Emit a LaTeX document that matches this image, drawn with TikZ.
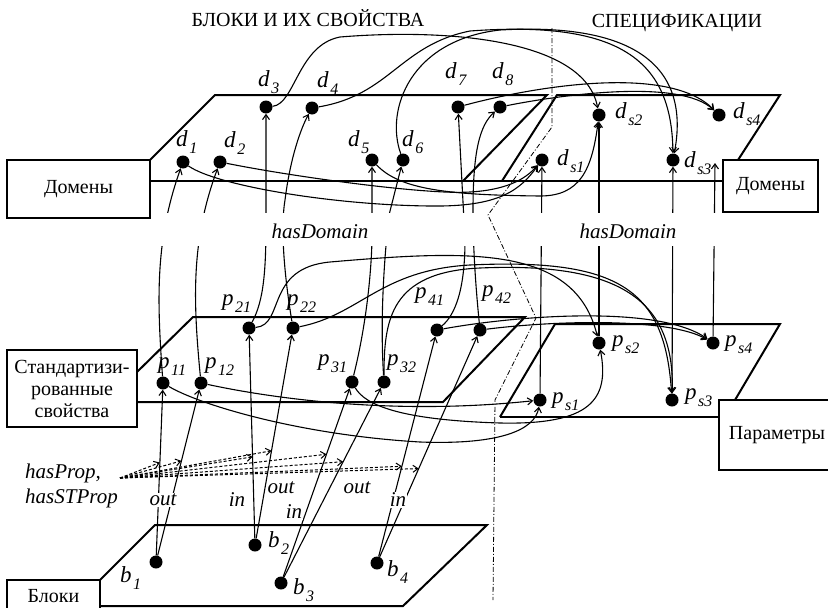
\documentclass[tikz,border=0pt]{standalone}
\usepackage{fontspec}
\setmainfont{Liberation Serif}
\usetikzlibrary{arrows.meta}
% italic letter with a lowered italic index
\newcommand{\elab}[2]{{\fontsize{23}{23}\selectfont\textit{#1}}\kern1.5pt\raisebox{-7pt}{\fontsize{16}{16}\selectfont\textit{#2}}}

\begin{document}
\begin{tikzpicture}[x=1pt,y=-1pt,
    font=\fontsize{20}{22}\selectfont,
    dot/.style={circle,fill=black,inner sep=0pt,minimum size=13pt},
    plane/.style={line width=2pt},
    box/.style={draw,line width=1.6pt,inner sep=0pt,align=center},
    link/.style={line width=1.1pt,-{Straight Barb[length=5pt,width=7pt]}},
    prop/.style={line width=1pt,densely dashed,-{Straight Barb[length=5pt,width=7pt]}},
    lab/.style={anchor=base west,inner sep=0pt},
    tag/.style={font=\fontsize{21}{22}\selectfont\itshape,fill=white,inner sep=1pt}]
  \clip (0,0) rectangle (828,608);

  % boxes on the left and right
  \node[box,minimum width=143pt,minimum height=58pt] (domL) at (78.5,189) {Домены};
  \node[box,minimum width=95pt,minimum height=52pt] (domR) at (770.5,186) {Домены};
  \node[box,minimum width=130pt,minimum height=77pt] (stprop) at (72,388.5)
    {Стандартизи-\\рованные\\свойства};
  \node[box,minimum width=116pt,minimum height=70pt] (param) at (777,435) {Параметры};
  \node[box,minimum width=93pt,minimum height=32pt] (blocks) at (53.5,596) {Блоки};

  % the planes
  \draw[plane] (150,160) -- (215,95) -- (547,95) -- (463,181);
  \draw[plane] (150,181) -- (723,181);
  \draw[plane] (502,181) -- (557,95) -- (780,95) -- (738,160);
  \draw[plane] (137,372) -- (193,317) -- (525,317) -- (443,402) -- (137,402);
  \draw[plane] (500,417) -- (555,324) -- (780,324) -- (735,400);
  \draw[plane] (500,417) -- (719,417);
  \draw[plane] (100,580) -- (155,525) -- (487,525) -- (403,606) -- (100,606);

  \node at (308,18) {БЛОКИ И ИХ СВОЙСТВА};
  \node at (677,23) {СПЕЦИФИКАЦИИ};

  % domains
  \node[dot] (d1) at (183,162) {};
  \node[dot] (d2) at (220,162) {};
  \node[dot] (d3) at (266,107) {};
  \node[dot] (d4) at (312,108) {};
  \node[dot] (d5) at (372,160) {};
  \node[dot] (d6) at (403,160) {};
  \node[dot] (d7) at (458,107) {};
  \node[dot] (d8) at (500,107) {};
  \node[dot] (ds1) at (542,160) {};
  \node[dot] (ds2) at (599,115) {};
  \node[dot] (ds3) at (673,160) {};
  \node[dot] (ds4) at (719,115) {};
  % properties
  \node[dot] (p11) at (163,383) {};
  \node[dot] (p12) at (201,383) {};
  \node[dot] (p21) at (249,328) {};
  \node[dot] (p22) at (293,328) {};
  \node[dot] (p31) at (352,382) {};
  \node[dot] (p32) at (384,382) {};
  \node[dot] (p41) at (437,330) {};
  \node[dot] (p42) at (480,330) {};
  \node[dot] (ps1) at (540,400) {};
  \node[dot] (ps2) at (599,343) {};
  \node[dot] (ps3) at (672,400) {};
  \node[dot] (ps4) at (713,343) {};
  % blocks
  \node[dot] (b1) at (156,562) {};
  \node[dot] (b2) at (255,545) {};
  \node[dot] (b3) at (281,583) {};
  \node[dot] (b4) at (377,563) {};

  \node[lab] at (176,146) {\elab{d}{1}};
  \node[lab] at (224,147) {\elab{d}{2}};
  \node[lab] at (258,86) {\elab{d}{3}};
  \node[lab] at (317,87) {\elab{d}{4}};
  \node[lab] at (348,146) {\elab{d}{5}};
  \node[lab] at (402,146) {\elab{d}{6}};
  \node[lab] at (445,78) {\elab{d}{7}};
  \node[lab] at (492,78) {\elab{d}{8}};
  \node[lab] at (557,165) {\elab{d}{s1}};
  \node[lab] at (615,118) {\elab{d}{s2}};
  \node[lab] at (684,167) {\elab{d}{s3}};
  \node[lab] at (733,118) {\elab{d}{s4}};
  \node[lab] at (158,368) {\elab{p}{11}};
  \node[lab] at (205,368) {\elab{p}{12}};
  \node[lab] at (222,305) {\elab{p}{21}};
  \node[lab] at (287,305) {\elab{p}{22}};
  \node[lab] at (318,365) {\elab{p}{31}};
  \node[lab] at (387,365) {\elab{p}{32}};
  \node[lab] at (415,298) {\elab{p}{41}};
  \node[lab] at (482,296) {\elab{p}{42}};
  \node[lab] at (552,403) {\elab{p}{s1}};
  \node[lab] at (612,346) {\elab{p}{s2}};
  \node[lab] at (685,399) {\elab{p}{s3}};
  \node[lab] at (725,346) {\elab{p}{s4}};
  \node[lab] at (120,582) {\elab{b}{1}};
  \node[lab] at (268,547) {\elab{b}{2}};
  \node[lab] at (293,594) {\elab{b}{3}};
  \node[lab] at (387,576) {\elab{b}{4}};

  % hasDomain
  \draw[link] (p11) .. controls (157,300) and (155,240) .. (d1);
  \draw[link] (p12) .. controls (193,300) and (191,240) .. (d2);
  \draw[link] (p21) .. controls (264,300) and (266,270) .. (266,220) -- (d3);
  \draw[link] (p22) .. controls (285,280) and (280,230) .. (285,200) .. controls (290,160) and (300,130) .. (d4);
  \draw[link] (p31) .. controls (365,330) and (371,280) .. (372,240) -- (d5);
  \draw[link] (p32) .. controls (380,320) and (384,260) .. (389,215) -- (d6);
  \draw[link] (p41) .. controls (455,315) and (465,290) .. (465,240) -- (d7);
  \draw[link] (p42) .. controls (476,290) and (473,250) .. (473,210) .. controls (473,150) and (480,125) .. (d8);
  \draw[link] (ps1) -- (ds1);
  \draw[link] (ps2) -- (ds2);
  \draw[link] (ps3) -- (ds3);
  \coordinate (hd4) at (715,163);
  \draw[link] (ps4) -- (hd4);

  % domains to specification domains
  \draw[link] (d1) .. controls (215,185) and (330,205) .. (430,206) .. controls (500,207) and (520,190) .. (ds1);
  \draw[link] (d2) .. controls (300,178) and (430,195) .. (470,192) .. controls (505,190) and (525,180) .. (ds1);
  \draw[link] (d5) .. controls (400,190) and (450,195) .. (540,196) .. controls (580,196) and (592,170) .. (ds2);
  \draw[link] (d3) .. controls (295,104) and (298,45) .. (340,37) .. controls (450,28) and (585,40) .. (ds2);
  \draw[link] (d4) .. controls (390,95) and (400,45) .. (470,31) .. controls (620,20) and (672,60) .. (ds3);
  \draw[link] (d6) .. controls (385,110) and (410,40) .. (500,30) .. controls (640,22) and (690,70) .. (ds3);
  \draw[link] (d7) .. controls (540,85) and (670,65) .. (ds4);
  \draw[link] (d8) .. controls (560,95) and (680,78) .. (ds4);

  % properties to parameters
  \draw[link] (p11) .. controls (200,405) and (300,435) .. (420,442) .. controls (500,445) and (535,430) .. (ps1);
  \draw[link] (p12) .. controls (280,400) and (400,415) .. (ps1);
  \draw[link] (p31) .. controls (365,405) and (400,420) .. (500,423) .. controls (590,425) and (610,400) .. (ps2);
  \draw[link] (p21) .. controls (285,325) and (265,268) .. (330,262) .. controls (470,250) and (575,245) .. (ps2);
  \draw[link] (p22) .. controls (360,315) and (380,270) .. (470,265) .. controls (620,258) and (665,290) .. (ps3);
  \draw[link] (p32) .. controls (384,320) and (390,272) .. (480,268) .. controls (620,262) and (675,300) .. (ps3);
  \draw[link] (p41) .. controls (520,315) and (660,305) .. (ps4);
  \draw[link] (p42) .. controls (560,320) and (670,318) .. (ps4);

  % blocks to properties
  \draw[link] (b1) -- coordinate[pos=0.56] (e1) (p11);
  \draw[link] (b1) -- coordinate[pos=0.57] (e2) (p12);
  \draw[link] (b2) -- coordinate[pos=0.40] (e3) (p21);
  \draw[link] (b2) -- coordinate[pos=0.43] (e4) (p22);
  \draw[link] (b3) -- coordinate[pos=0.65] (e5) (p31);
  \draw[link] (b3) -- coordinate[pos=0.61] (e6) (p32);
  \draw[link] (b4) -- coordinate[pos=0.41] (e7) (p41);
  \draw[link] (b4) -- coordinate[pos=0.40] (e8) (p42);

  \coordinate (hp) at (120,478);
  \foreach \e in {e1,e2,e3,e4,e5,e6,e7,e8}
    \draw[prop] (hp) -- (\e);

  % gap for the hasDomain captions
  \fill[white] (152,213) rectangle (722,246);
  \node[font=\fontsize{21}{22}\selectfont\itshape] at (320,231) {hasDomain};
  \node[font=\fontsize{21}{22}\selectfont\itshape] at (628,231) {hasDomain};

  \draw[line width=0.8pt,dash pattern=on 5pt off 2pt on 1pt off 2pt]
    (552,28) -- (552,127) -- (488,215) -- (536,318) -- (495,400) -- (493,600);

  \node[lab,font=\fontsize{21}{22}\selectfont\itshape] at (25,478) {hasProp,};
  \node[lab,font=\fontsize{21}{22}\selectfont\itshape] at (25,503) {hasSTProp};
  \node[tag] at (163,500) {out};
  \node[tag] at (237,500) {in};
  \node[tag] at (281,488) {out};
  \node[tag] at (294,512) {in};
  \node[tag] at (357,488) {out};
  \node[tag] at (398,500) {in};
\end{tikzpicture}
\end{document}
